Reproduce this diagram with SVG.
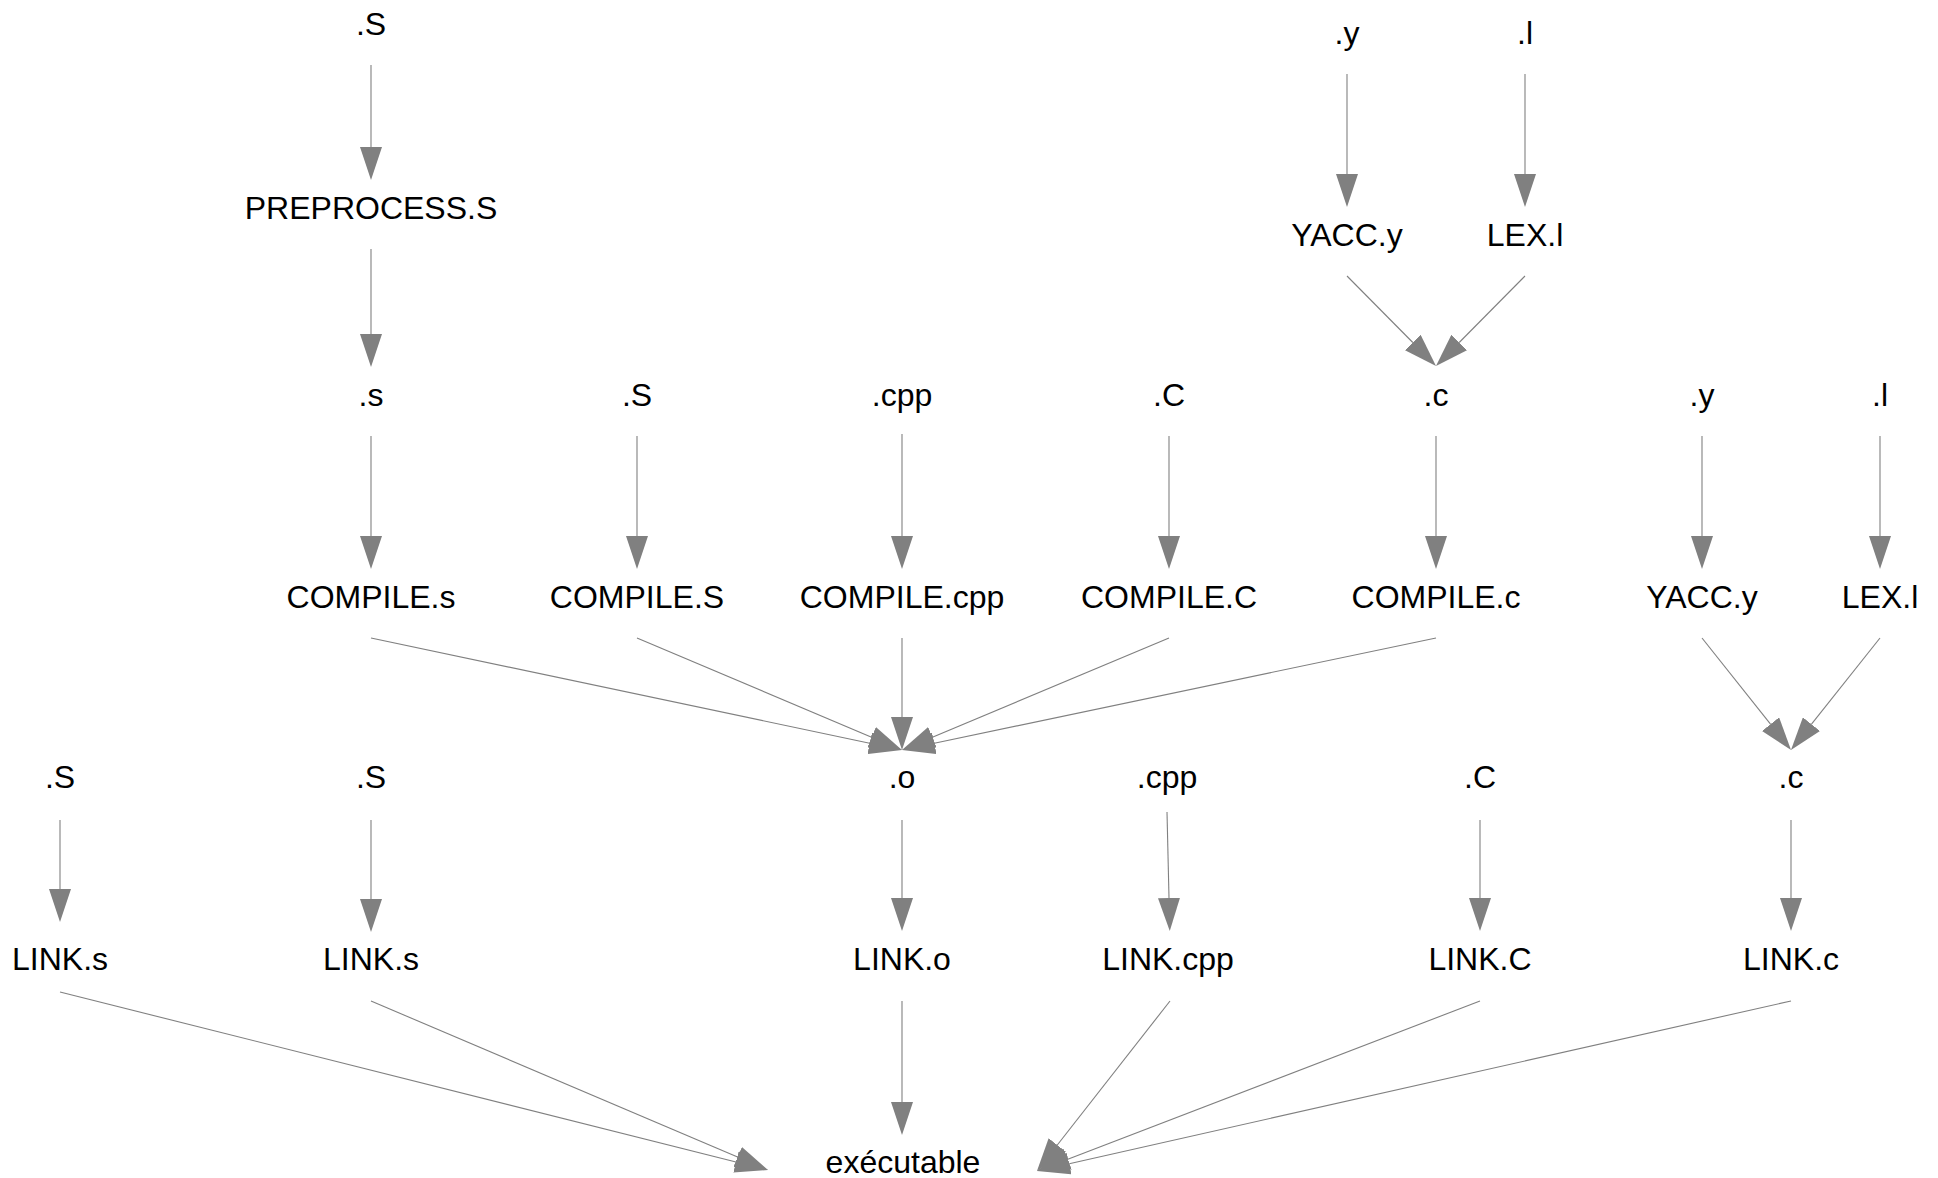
<svg xmlns="http://www.w3.org/2000/svg" width="1938" height="1178" viewBox="0 0 1938 1178">
<style>
text{font-family:"Liberation Sans",Arial,Helvetica,sans-serif;font-size:32px;fill:#000;text-anchor:middle}
.e{stroke:#808080;stroke-width:1.1;fill:none;marker-end:url(#ah)}
</style>
<defs>
<marker id="ah" markerUnits="userSpaceOnUse" viewBox="0 0 33 22" markerWidth="33" markerHeight="22" refX="0" refY="11" orient="auto">
<path d="M0,0 L33,11 L0,22 Z" fill="#808080"/>
</marker>
</defs>
<rect width="1938" height="1178" fill="#fff"/>
<g id="connectors">
<line class="e" x1="371" y1="65" x2="371" y2="147"/>
<line class="e" x1="371" y1="249" x2="371" y2="334"/>
<line class="e" x1="1347" y1="74" x2="1347" y2="174"/>
<line class="e" x1="1525" y1="74" x2="1525" y2="174"/>
<line class="e" x1="1347" y1="276" x2="1412.8" y2="342.5"/>
<line class="e" x1="1525" y1="276" x2="1459.2" y2="342.5"/>
<line class="e" x1="371" y1="436" x2="371" y2="536"/>
<line class="e" x1="637" y1="436" x2="637" y2="536"/>
<line class="e" x1="902" y1="434" x2="902" y2="536"/>
<line class="e" x1="1169" y1="436" x2="1169" y2="536"/>
<line class="e" x1="1436" y1="436" x2="1436" y2="536"/>
<line class="e" x1="1702" y1="436" x2="1702" y2="536"/>
<line class="e" x1="1880" y1="436" x2="1880" y2="536"/>
<line class="e" x1="371" y1="638" x2="869.7" y2="743.2"/>
<line class="e" x1="637" y1="638" x2="871.6" y2="737.2"/>
<line class="e" x1="902" y1="638" x2="902" y2="717"/>
<line class="e" x1="1169" y1="638" x2="932.4" y2="737.2"/>
<line class="e" x1="1436" y1="638" x2="934.3" y2="743.2"/>
<line class="e" x1="1702" y1="638" x2="1770.5" y2="724.2"/>
<line class="e" x1="1880" y1="638" x2="1811.5" y2="724.2"/>
<line class="e" x1="60" y1="820" x2="60" y2="889"/>
<line class="e" x1="371" y1="820" x2="371" y2="899"/>
<line class="e" x1="902" y1="820" x2="902" y2="898"/>
<line class="e" x1="1167" y1="812" x2="1169" y2="898"/>
<line class="e" x1="1480" y1="820" x2="1480" y2="898"/>
<line class="e" x1="1791" y1="820" x2="1791" y2="898"/>
<line class="e" x1="60" y1="992" x2="736" y2="1161.95"/>
<line class="e" x1="371" y1="1001" x2="737.6" y2="1157.1"/>
<line class="e" x1="902" y1="1001" x2="902" y2="1102"/>
<line class="e" x1="1170" y1="1001" x2="1057.3" y2="1145"/>
<line class="e" x1="1480" y1="1001" x2="1067.8" y2="1159.2"/>
<line class="e" x1="1791" y1="1001" x2="1069.2" y2="1163.7"/>
</g>
<g id="n_S_top"><text x="371" y="35">.S</text></g>
<g id="n_preprocess_S"><text x="371" y="219">PREPROCESS.S</text></g>
<g id="n_y_top"><text x="1347" y="44">.y</text></g>
<g id="n_l_top"><text x="1525" y="44">.l</text></g>
<g id="n_yacc_1"><text x="1347" y="246">YACC.y</text></g>
<g id="n_lex_1"><text x="1525" y="246">LEX.l</text></g>
<g id="n_s_c"><text x="371" y="406">.s</text></g>
<g id="n_S_c"><text x="637" y="406">.S</text></g>
<g id="n_cpp_c"><text x="902" y="406">.cpp</text></g>
<g id="n_C_c"><text x="1169" y="406">.C</text></g>
<g id="n_c_c"><text x="1436" y="406">.c</text></g>
<g id="n_y_c"><text x="1702" y="406">.y</text></g>
<g id="n_l_c"><text x="1880" y="406">.l</text></g>
<g id="n_compile_s"><text x="371" y="608">COMPILE.s</text></g>
<g id="n_compile_S"><text x="637" y="608">COMPILE.S</text></g>
<g id="n_compile_cpp"><text x="902" y="608">COMPILE.cpp</text></g>
<g id="n_compile_C"><text x="1169" y="608">COMPILE.C</text></g>
<g id="n_compile_c"><text x="1436" y="608">COMPILE.c</text></g>
<g id="n_yacc_2"><text x="1702" y="608">YACC.y</text></g>
<g id="n_lex_2"><text x="1880" y="608">LEX.l</text></g>
<g id="n_S_e1"><text x="60" y="788">.S</text></g>
<g id="n_S_e2"><text x="371" y="788">.S</text></g>
<g id="n_o_e"><text x="902" y="788">.o</text></g>
<g id="n_cpp_e"><text x="1167" y="788">.cpp</text></g>
<g id="n_C_e"><text x="1480" y="788">.C</text></g>
<g id="n_c_e"><text x="1791" y="788">.c</text></g>
<g id="n_link_s1"><text x="60" y="970">LINK.s</text></g>
<g id="n_link_s2"><text x="371" y="970">LINK.s</text></g>
<g id="n_link_o"><text x="902" y="970">LINK.o</text></g>
<g id="n_link_cpp"><text x="1168" y="970">LINK.cpp</text></g>
<g id="n_link_C"><text x="1480" y="970">LINK.C</text></g>
<g id="n_link_c"><text x="1791" y="970">LINK.c</text></g>
<g id="n_executable"><text x="903" y="1173">exécutable</text></g>
</svg>
